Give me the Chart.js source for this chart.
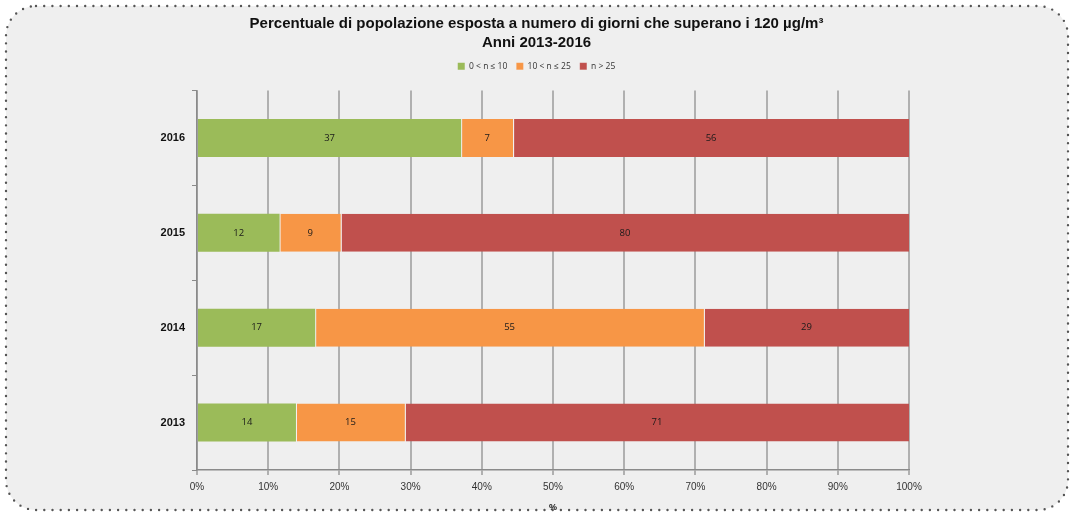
<!DOCTYPE html>
<html>
<head>
<meta charset="utf-8">
<script src="https://cdn.jsdelivr.net/npm/chart.js@4.4.1/dist/chart.umd.min.js"></script>
<style>
html,body{margin:0;padding:0;background:#ffffff;}
#wrap{width:1073px;height:513px;position:relative;}
</style>
</head>
<body>
<div id="wrap"><canvas id="c" width="1073" height="513"></canvas></div>
<script>
const years = ['2016', '2015', '2014', '2013'];
const seriesNames = ['0 < n \u2264 10', '10 < n \u2264 25', 'n > 25'];
const low = [37.1, 11.6, 16.6, 13.9];
const mid = [7.3, 8.6, 54.6, 15.3];
const high = [55.6, 79.8, 28.8, 70.8];
const xTicks = [0, 10, 20, 30, 40, 50, 60, 70, 80, 90, 100];

const bgPlugin = {
  id: 'bgBox',
  beforeDraw(chart) {
    const ctx = chart.ctx;
    const x = 6, y = 6, w = 1062, h = 504, r = 30;
    ctx.save();
    ctx.beginPath();
    ctx.moveTo(x + r, y);
    ctx.lineTo(x + w - r, y);
    ctx.arcTo(x + w, y, x + w, y + r, r);
    ctx.lineTo(x + w, y + h - r);
    ctx.arcTo(x + w, y + h, x + w - r, y + h, r);
    ctx.lineTo(x + r, y + h);
    ctx.arcTo(x, y + h, x, y + h - r, r);
    ctx.lineTo(x, y + r);
    ctx.arcTo(x, y, x + r, y, r);
    ctx.closePath();
    ctx.fillStyle = '#efefef';
    ctx.fill();
    ctx.setLineDash([0, 8.2]);
    ctx.lineCap = 'round';
    ctx.lineWidth = 2.4;
    ctx.strokeStyle = '#555555';
    ctx.stroke();
    ctx.restore();
  }
};

const labelPlugin = {
  id: 'barLabels',
  afterDatasetsDraw(chart) {
    const ctx = chart.ctx;
    ctx.save();
    ctx.font = '500 9.5px "Open Sans", "DejaVu Sans", sans-serif';
    ctx.fillStyle = '#1a1a1a';
    ctx.textAlign = 'center';
    ctx.textBaseline = 'middle';
    chart.data.datasets.forEach((ds, i) => {
      const meta = chart.getDatasetMeta(i);
      meta.data.forEach((bar, j) => {
        const v = ds.data[j];
        const cx = (bar.x + bar.base) / 2;
        ctx.fillText(String(Math.round(v)), cx, bar.y);
      });
    });
    ctx.restore();
  }
};

const hiddenAxis = (axis, pos, size) => ({
  type: 'linear',
  axis: axis,
  position: pos,
  display: true,
  ticks: { display: false },
  grid: { display: false, drawTicks: false },
  border: { display: false },
  afterFit(s) { if (axis === 'x') { s.height = size; } else { s.width = size; } }
});

const mk = (i, data, color) => ({
  label: seriesNames[i], data: data, backgroundColor: color,
  borderColor: 'rgba(255,255,255,0.35)',
  borderWidth: { left: i === 0 ? 0 : 1, right: 0, top: 0, bottom: 0 },
  borderSkipped: false,
  xAxisID: 'x', yAxisID: 'y', stack: 'all'
});

new Chart(document.getElementById('c'), {
  type: 'bar',
  data: {
    labels: years,
    datasets: [
      mk(0, low, '#9BBB59'),
      mk(1, mid, '#F79646'),
      mk(2, high, '#C0504D')
    ]
  },
  options: {
    indexAxis: 'y',
    responsive: false,
    animation: false,
    devicePixelRatio: 1,
    layout: { padding: 0 },
    datasets: { bar: { barPercentage: 0.4, categoryPercentage: 1.0 } },
    plugins: {
      tooltip: { enabled: false },
      title: {
        display: true,
        text: ['Percentuale di popolazione esposta a numero di giorni che superano i 120 \u00b5g/m\u00b3', 'Anni 2013-2016'],
        font: { family: '"Liberation Sans", Arial, sans-serif', size: 15, weight: 'bold', lineHeight: 1.3 },
        color: '#111111',
        padding: { top: 14, bottom: 0 }
      },
      legend: {
        display: true,
        position: 'top',
        labels: {
          boxWidth: 7,
          boxHeight: 7,
          padding: 9,
          color: '#333333',
          font: { family: '"Open Sans", "DejaVu Sans", sans-serif', size: 8.5 }
        }
      }
    },
    scales: {
      x: {
        axis: 'x',
        type: 'linear',
        position: 'bottom',
        stacked: true,
        min: 0,
        max: 100,
        afterFit(s) { s.height = 43; },
        afterBuildTicks(s) { s.ticks = xTicks.map(v => ({ value: v })); },
        ticks: {
          callback: v => v + '%',
          color: '#333333',
          padding: 6,
          font: { family: '"Liberation Sans", Arial, sans-serif', size: 10 }
        },
        grid: { color: '#b0b0b0', lineWidth: 2, tickLength: 5, drawTicks: true },
        border: { display: true, color: '#8a8a8a', width: 1.5 },
        title: {
          display: true,
          text: '%',
          color: '#111111',
          padding: { top: 2, bottom: 0 },
          font: { family: '"Liberation Sans", Arial, sans-serif', size: 9, weight: 'bold' }
        }
      },
      y: {
        axis: 'y',
        type: 'category',
        position: 'left',
        stacked: true,
        afterFit(s) { s.width = 197; },
        ticks: {
          color: '#111111',
          padding: 7,
          font: { family: '"Liberation Sans", Arial, sans-serif', size: 11, weight: 'bold' }
        },
        grid: { offset: true, drawOnChartArea: false, drawTicks: true, tickLength: 5, color: '#8a8a8a' },
        border: { display: true, color: '#8a8a8a', width: 1.5 }
      },
      xTopSpacer: hiddenAxis('x', 'top', 10),
      yRightSpacer: hiddenAxis('y', 'right', 164)
    }
  },
  plugins: [bgPlugin, labelPlugin]
});
</script>
</body>
</html>
